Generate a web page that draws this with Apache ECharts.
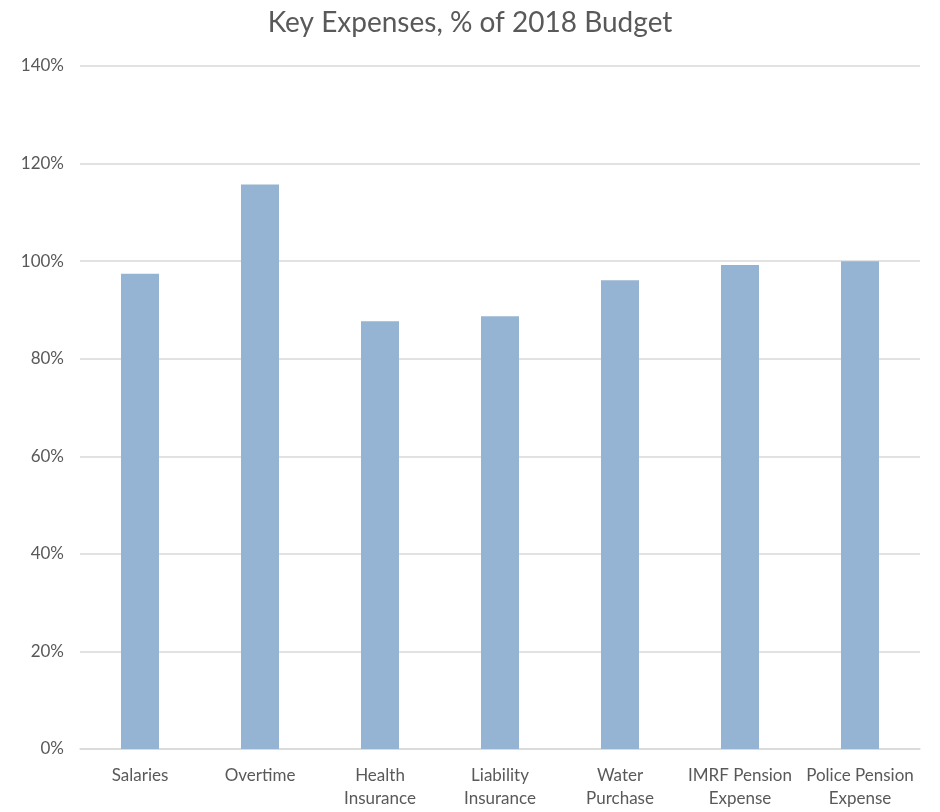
<!DOCTYPE html>
<html>
<head>
<meta charset="utf-8">
<script src="https://cdn.jsdelivr.net/npm/echarts@6/dist/echarts.min.js"></script>
<style>
  html, body { margin: 0; padding: 0; background: #fff; }
  #chart { width: 940px; height: 812px; }
</style>
</head>
<body>
<div id="chart"></div>
<script>
// Expense categories and their spending as a share of the 2018 budget (%)
const categories = [
  'Salaries', 'Overtime', 'Health\nInsurance', 'Liability\nInsurance',
  'Water\nPurchase', 'IMRF Pension\nExpense', 'Police Pension\nExpense'
];
const pctOfBudget = [97.4, 115.7, 87.7, 88.7, 96.1, 99.2, 100.0];
const yTicks = [0, 20, 40, 60, 80, 100, 120, 140];

const textColor = '#595959';
const fontFamily = 'Lato, "Open Sans", sans-serif';

const chart = echarts.init(document.getElementById('chart'));
chart.setOption({
  animation: false,
  title: {
    text: 'Key Expenses, % of 2018 Budget',
    left: 'center',
    top: 4,
    textStyle: { color: textColor, fontFamily, fontSize: 28, fontWeight: 'normal' }
  },
  grid: { left: 80, right: 20, top: 66, bottom: 63, containLabel: false },
  xAxis: {
    type: 'category',
    data: categories,
    axisLine: { lineStyle: { color: '#d9d9d9', width: 1.5 } },
    axisTick: { show: false },
    axisLabel: {
      color: textColor, fontFamily, fontSize: 17, margin: 15, lineHeight: 23, interval: 0
    }
  },
  yAxis: {
    type: 'value',
    min: yTicks[0],
    max: yTicks[yTicks.length - 1],
    interval: 20,
    axisLine: { show: false },
    axisTick: { show: false },
    splitLine: { lineStyle: { color: '#d9d9d9', width: 1.5 } },
    axisLabel: {
      color: textColor, fontFamily, fontSize: 17, margin: 16,
      formatter: v => v + '%'
    }
  },
  series: [{
    type: 'bar',
    data: pctOfBudget,
    barWidth: 38,
    itemStyle: { color: '#95b3d2' }
  }]
});
</script>
</body>
</html>
